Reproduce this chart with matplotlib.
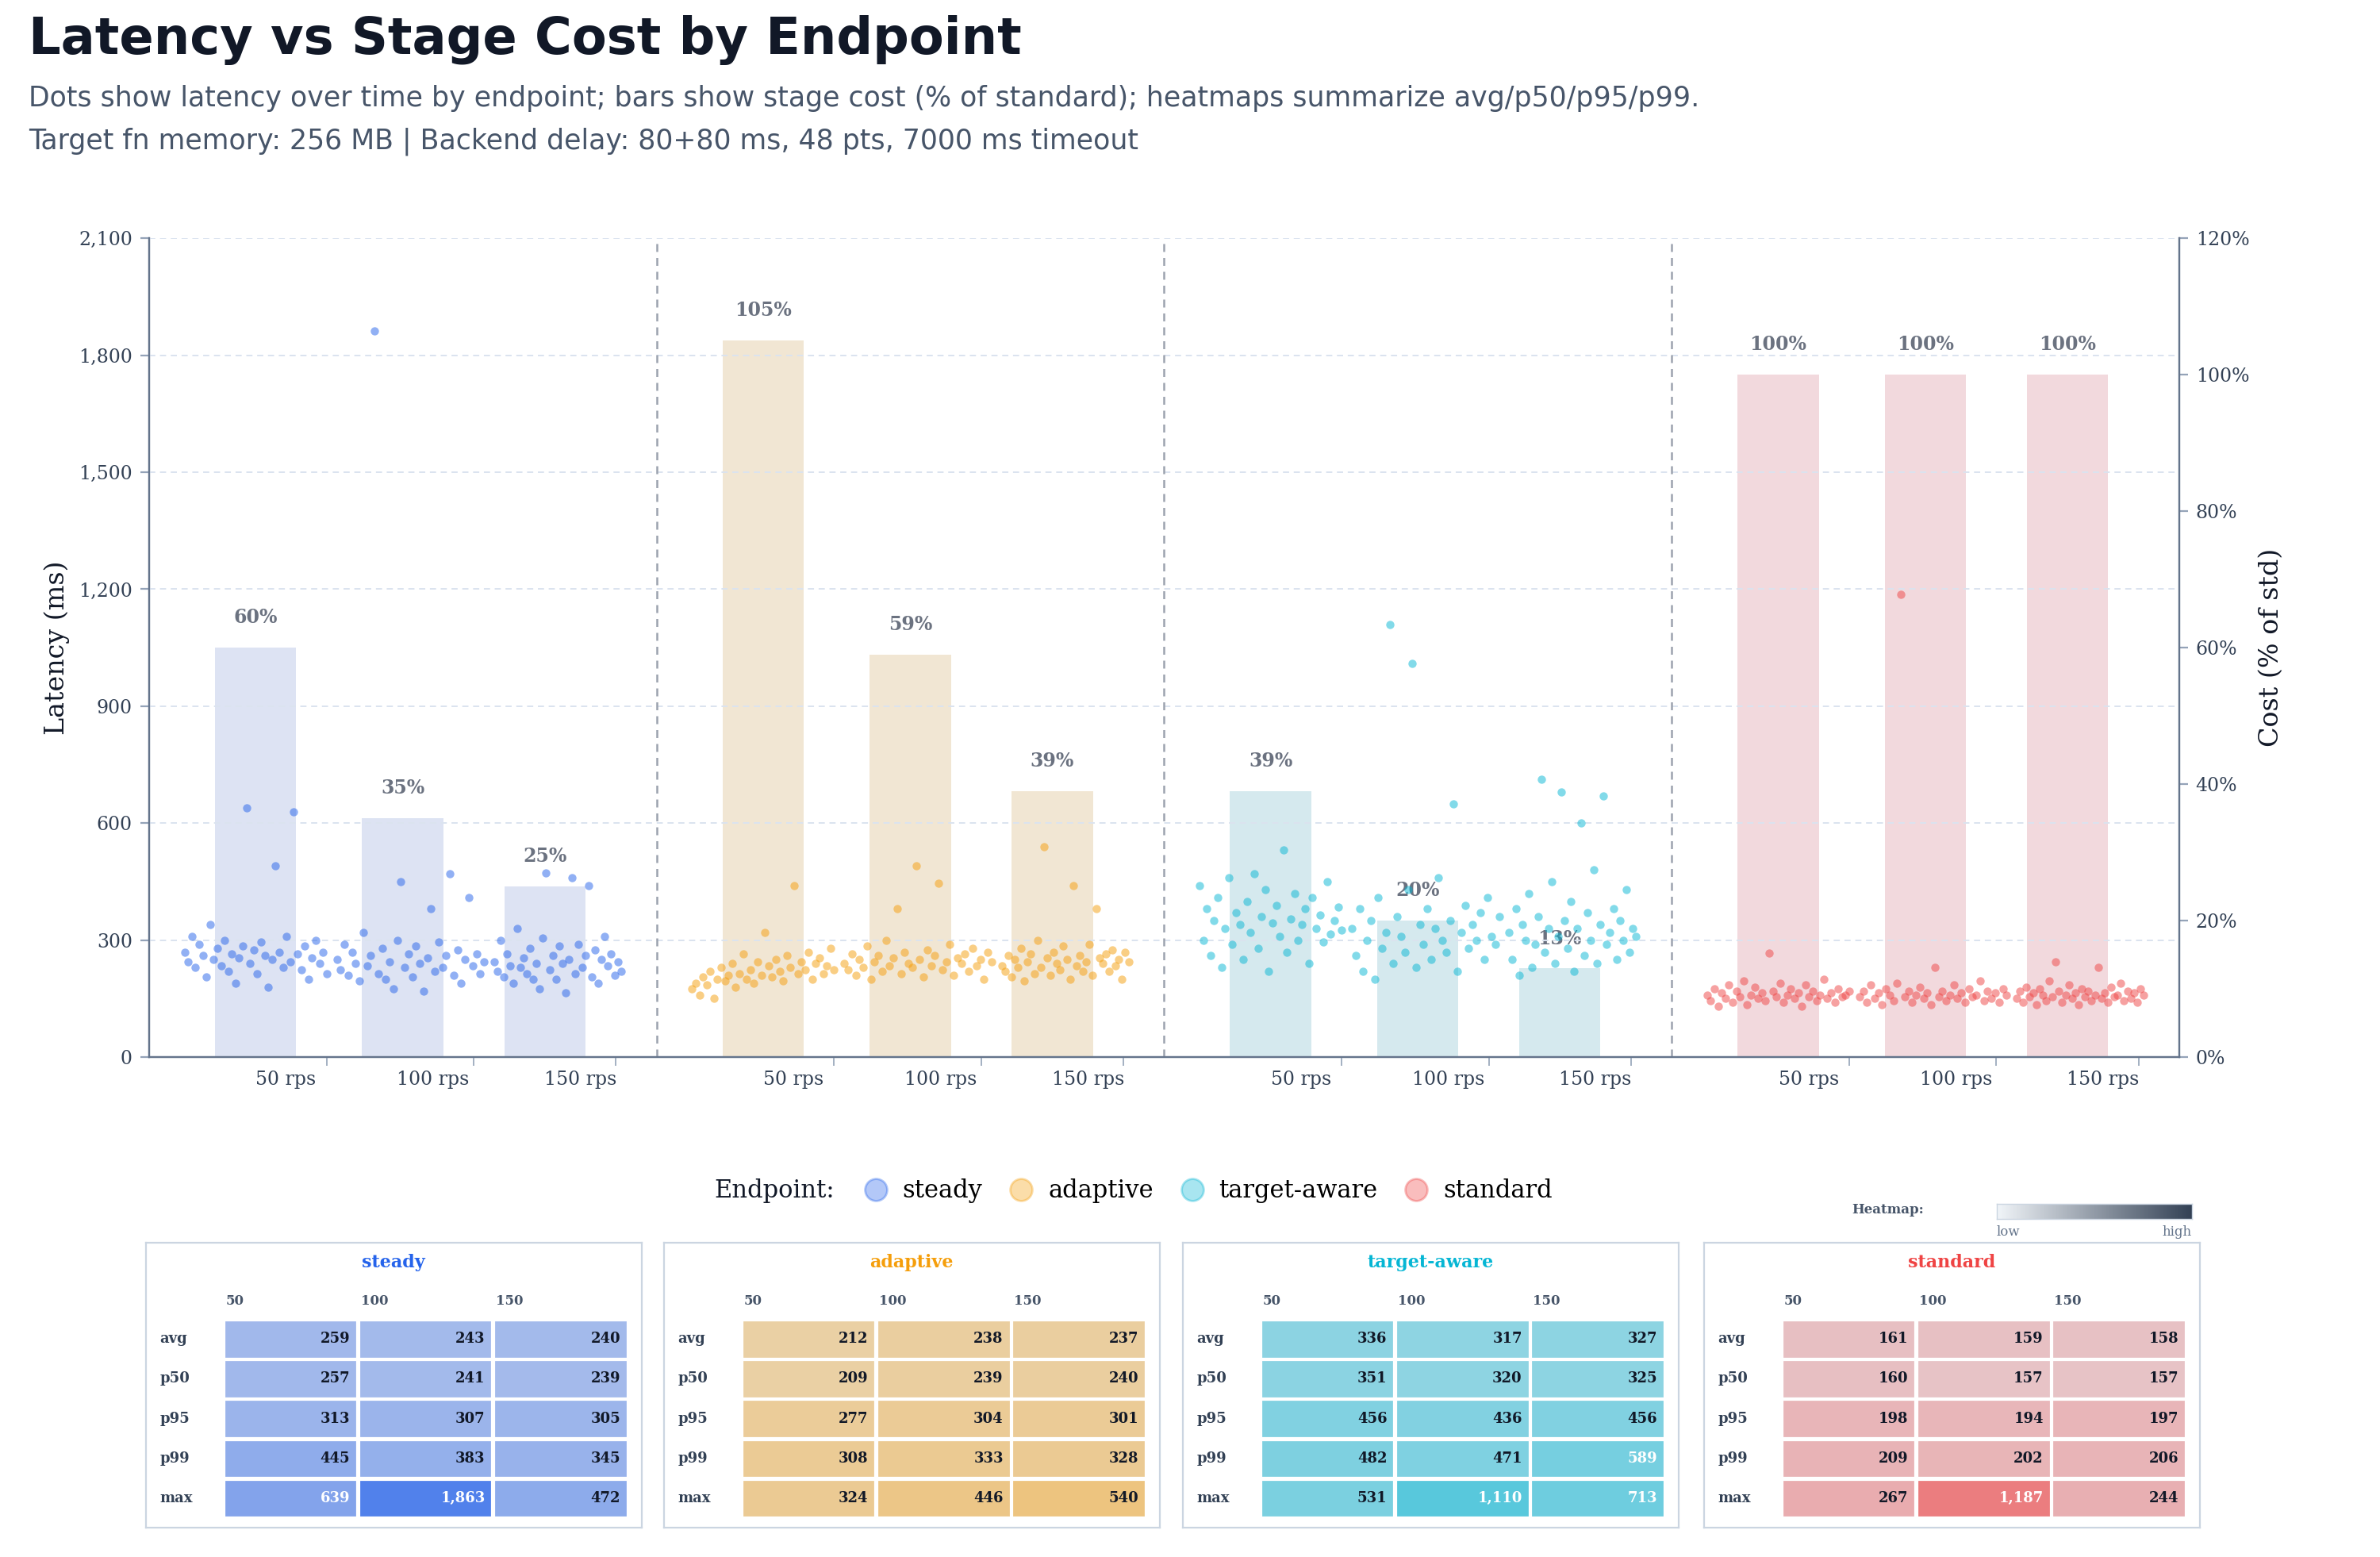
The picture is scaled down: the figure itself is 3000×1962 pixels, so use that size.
import matplotlib
matplotlib.use("Agg")
import matplotlib.pyplot as plt
import numpy as np
from matplotlib.patches import Rectangle
from matplotlib.lines import Line2D
import matplotlib.colors as mcolors

endpoints = ["steady", "adaptive", "target-aware", "standard"]
rps_labels = ["50 rps", "100 rps", "150 rps"]
colors = {"steady": "#2563eb", "adaptive": "#f59e0b", "target-aware": "#06b6d4", "standard": "#ef4444"}
bar_colors = {"steady": "#dde3f3", "adaptive": "#f1e6d3", "target-aware": "#d5e9ee", "standard": "#f2d9dd"}

cost_steady = [60, 35, 25]
cost_adaptive = [105, 59, 39]
cost_target = [39, 20, 13]
cost_standard = [100, 100, 100]

lat_steady_50 = [270,245,310,230,290,260,205,340,250,280,235,300,220,265,190,255,285,640,240,275,215,295,260,180,250,490,270,230,310,245,630,265,225,285,200,255,300,240,270,215]
lat_steady_100 = [250,225,290,210,270,240,195,320,235,260,1863,215,280,200,245,175,300,450,230,265,205,285,240,170,255,380,220,295,230,260,470,210,275,190,250,410,235,265,215,245]
lat_steady_150 = [245,220,300,205,265,235,190,330,230,255,215,280,200,240,175,305,472,225,260,200,285,240,165,250,460,215,290,230,260,440,205,275,190,250,310,235,265,210,245,220]
lat_adaptive_50 = [175,190,160,205,185,220,150,200,230,195,210,240,180,215,265,200,225,190,245,210,320,235,205,250,220,195,260,230,440,215,245,225,270,200,240,255,215,235,280,225]
lat_adaptive_100 = [240,225,265,210,250,230,285,200,245,260,220,300,235,255,380,215,270,240,230,490,250,205,275,235,260,446,225,245,290,210,255,240,265,220,280,235,250,200,270,245]
lat_adaptive_150 = [235,220,260,205,250,230,280,195,245,265,215,300,230,540,255,210,270,240,225,285,250,200,440,235,260,220,245,290,210,380,255,240,265,220,275,235,250,200,270,245]
lat_target_50 = [440,300,380,260,350,410,230,330,460,290,370,340,250,400,320,470,280,360,430,220,345,390,310,531,270,355,420,300,340,380,240,410,330,365,295,450,315,350,385,325]
lat_target_100 = [330,260,380,220,300,350,200,410,280,320,1110,240,360,310,270,430,1010,230,340,290,380,250,330,460,300,270,350,650,220,320,390,280,340,300,370,250,410,310,290,360]
lat_target_150 = [320,250,380,210,340,300,420,230,290,360,713,270,330,450,240,310,680,350,280,400,220,330,600,260,370,300,480,240,340,670,290,320,380,250,350,300,430,270,330,310]
lat_standard_50 = [160,145,175,130,165,150,185,140,170,155,195,135,160,180,150,165,145,267,170,155,190,140,160,175,150,165,130,185,155,170,145,160,200,150,165,140,175,155,160,170]
lat_standard_100 = [155,170,140,185,150,165,135,175,160,145,190,1187,155,170,140,160,180,150,165,135,230,155,170,145,160,185,150,165,140,175,155,160,195,145,170,150,165,140,175,160]
lat_standard_150 = [150,170,140,180,155,165,135,175,160,145,195,155,244,170,140,160,185,150,165,135,175,155,170,145,160,230,150,165,140,180,155,160,190,145,170,150,165,140,175,160]

stat_rows = ["avg", "p50", "p95", "p99", "max"]
stat_cols = ["50", "100", "150"]
heat_steady = [[259,243,240],[257,241,239],[313,307,305],[445,383,345],[639,1863,472]]
heat_adaptive = [[212,238,237],[209,239,240],[277,304,301],[308,333,328],[324,446,540]]
heat_target = [[336,317,327],[351,320,325],[456,436,456],[482,471,589],[531,1110,713]]
heat_standard = [[161,159,158],[160,157,157],[198,194,197],[209,202,206],[267,1187,244]]

costs = {"steady": cost_steady, "adaptive": cost_adaptive, "target-aware": cost_target, "standard": cost_standard}
lats = {"steady": [lat_steady_50, lat_steady_100, lat_steady_150],
        "adaptive": [lat_adaptive_50, lat_adaptive_100, lat_adaptive_150],
        "target-aware": [lat_target_50, lat_target_100, lat_target_150],
        "standard": [lat_standard_50, lat_standard_100, lat_standard_150]}
heats = {"steady": heat_steady, "adaptive": heat_adaptive, "target-aware": heat_target, "standard": heat_standard}

SERIF = "DejaVu Serif"
fig = plt.figure(figsize=(15, 9.81), dpi=200)
fig.text(0.012, 0.958, "Latency vs Stage Cost by Endpoint", fontsize=23, fontweight="bold", color="#111827", family="DejaVu Sans", va="bottom")
fig.text(0.012, 0.928, "Dots show latency over time by endpoint; bars show stage cost (% of standard); heatmaps summarize avg/p50/p95/p99.", fontsize=12.5, color="#475569", va="bottom")
fig.text(0.012, 0.900, "Target fn memory: 256 MB | Backend delay: 80+80 ms, 48 pts, 7000 ms timeout", fontsize=12.5, color="#475569", va="bottom")

ax = fig.add_axes([0.0626, 0.321, 0.853, 0.526])
ax2 = ax.twinx()
ax.set_zorder(ax2.get_zorder() + 1)
ax.patch.set_visible(False)

bar_off = [0.21, 0.50, 0.78]
dot_rng = [(0.07, 0.35), (0.37, 0.66), (0.68, 0.93)]
lab_off = [0.27, 0.56, 0.85]
tick_off = [0.35, 0.64, 0.92]
for i, ep in enumerate(endpoints):
    for j in range(3):
        ax2.bar(i + bar_off[j], costs[ep][j], width=0.16, color=bar_colors[ep], zorder=1)
        ax2.text(i + bar_off[j], costs[ep][j] + 3, f"{costs[ep][j]}%", ha="center", va="bottom",
                 fontsize=8.5, fontweight="bold", color="#6b7280", family=SERIF, zorder=5)
        v = lats[ep][j]
        xs = np.linspace(dot_rng[j][0], dot_rng[j][1], len(v)) + i
        ax.scatter(xs, v, s=14, color=colors[ep], alpha=0.5, linewidths=0, zorder=3)

ax.set_xlim(0, 4)
ax.set_ylim(0, 2100)
ax2.set_ylim(0, 120)
ax.set_yticks(range(0, 2101, 300))
ax.set_yticklabels([f"{v:,}" for v in range(0, 2101, 300)], family=SERIF, fontsize=8.5, color="#334155")
ax2.set_yticks(range(0, 121, 20))
ax2.set_yticklabels([f"{v}%" for v in range(0, 121, 20)], family=SERIF, fontsize=8.5, color="#334155")
ax.set_xticks([i + o for i in range(4) for o in lab_off])
ax.set_xticklabels(rps_labels * 4, family=SERIF, fontsize=8.5, color="#334155")
ax.tick_params(axis="x", length=0, pad=6)
ax.set_xticks([i + o for i in range(4) for o in tick_off], minor=True)
ax.tick_params(axis="x", which="minor", length=4, color="#94a3b8")
ax.tick_params(axis="y", length=4, color="#94a3b8")
ax2.tick_params(axis="y", length=4, color="#94a3b8")
ax.grid(axis="y", color="#dbe3ef", linestyle=(0, (4, 3)), linewidth=0.7)
ax.set_axisbelow(True)
for x in [1, 2, 3]:
    ax.axvline(x, color="#9ca3af", linestyle=(0, (4, 3)), linewidth=0.9, zorder=2)
ax.set_ylabel("Latency (ms)", family=SERIF, fontsize=12, color="#111827")
ax2.set_ylabel("Cost (% of std)", family=SERIF, fontsize=12, color="#111827")
for a in (ax, ax2):
    a.spines["top"].set_visible(False)
    for s in ("left", "right", "bottom"):
        a.spines[s].set_color("#64748b")

# legend
fig.text(0.300, 0.235, "Endpoint:", family=SERIF, fontsize=11, color="#111827", va="center")
handles = [Line2D([0], [0], marker="o", linestyle="", markersize=10, color=colors[ep], alpha=0.35, label=ep) for ep in endpoints]
leg = fig.legend(handles=handles, loc="center", bbox_to_anchor=(0.505, 0.235), ncol=4, frameon=False,
                 prop={"family": SERIF, "size": 11}, handletextpad=0.1, columnspacing=0.6)

# heatmap colorbar
fig.text(0.778, 0.223, "Heatmap:", family=SERIF, fontsize=6, fontweight="bold", color="#475569", va="center")
cax = fig.add_axes([0.839, 0.217, 0.082, 0.010])
cax.imshow(np.linspace(0, 1, 256)[None, :], aspect="auto",
           cmap=mcolors.LinearSegmentedColormap.from_list("g", ["#f1f5f9", "#334155"]))
cax.set_xticks([]); cax.set_yticks([])
for s in cax.spines.values():
    s.set_color("#cbd5e1"); s.set_linewidth(0.5)
fig.text(0.839, 0.213, "low", family=SERIF, fontsize=6, color="#64748b", va="top")
fig.text(0.921, 0.213, "high", family=SERIF, fontsize=6, color="#64748b", va="top", ha="right")

# heatmap panels
lefts = [0.0613, 0.279, 0.497, 0.716]
base = np.array(mcolors.to_rgb("#e5e7eb"))
all_vals = np.array([heats[ep] for ep in endpoints], dtype=float)
glo, ghi = all_vals.min(), all_vals.max()
for k, ep in enumerate(endpoints):
    hx = fig.add_axes([lefts[k], 0.019, 0.2084, 0.183])
    hx.set_xlim(0, 323); hx.set_ylim(186, 0)
    hx.set_xticks([]); hx.set_yticks([])
    for s in hx.spines.values():
        s.set_color("#cbd5e1"); s.set_linewidth(0.8)
    hx.text(161, 13, ep, ha="center", va="center", family=SERIF, fontsize=8, fontweight="bold", color=colors[ep])
    data = np.array(heats[ep], dtype=float)
    c = np.array(mcolors.to_rgb(colors[ep]))
    for cj, cl in enumerate(stat_cols):
        hx.text(52 + 88 * cj, 38, cl, ha="left", va="center", family=SERIF, fontsize=6, fontweight="bold", color="#475569")
    for ri, rl in enumerate(stat_rows):
        y0 = 52 + 26 * ri
        hx.text(9, y0 + 11, rl, ha="left", va="center", family=SERIF, fontsize=6.5, fontweight="bold", color="#334155")
        for cj in range(3):
            v = data[ri, cj]
            nrm = np.sqrt((v - glo) / (ghi - glo))
            t = 0.22 + 0.55 * nrm
            col = base * (1 - t) + c * t
            hx.add_patch(Rectangle((52 + 88 * cj, y0), 84, 22, color=col))
            hx.text(52 + 88 * cj + 81, y0 + 11, f"{int(v):,}", ha="right", va="center", family=SERIF,
                    fontsize=6.5, fontweight="bold", color="white" if nrm > 0.5 else "#111827")

fig.savefig("out.png", dpi=200, facecolor="white")
